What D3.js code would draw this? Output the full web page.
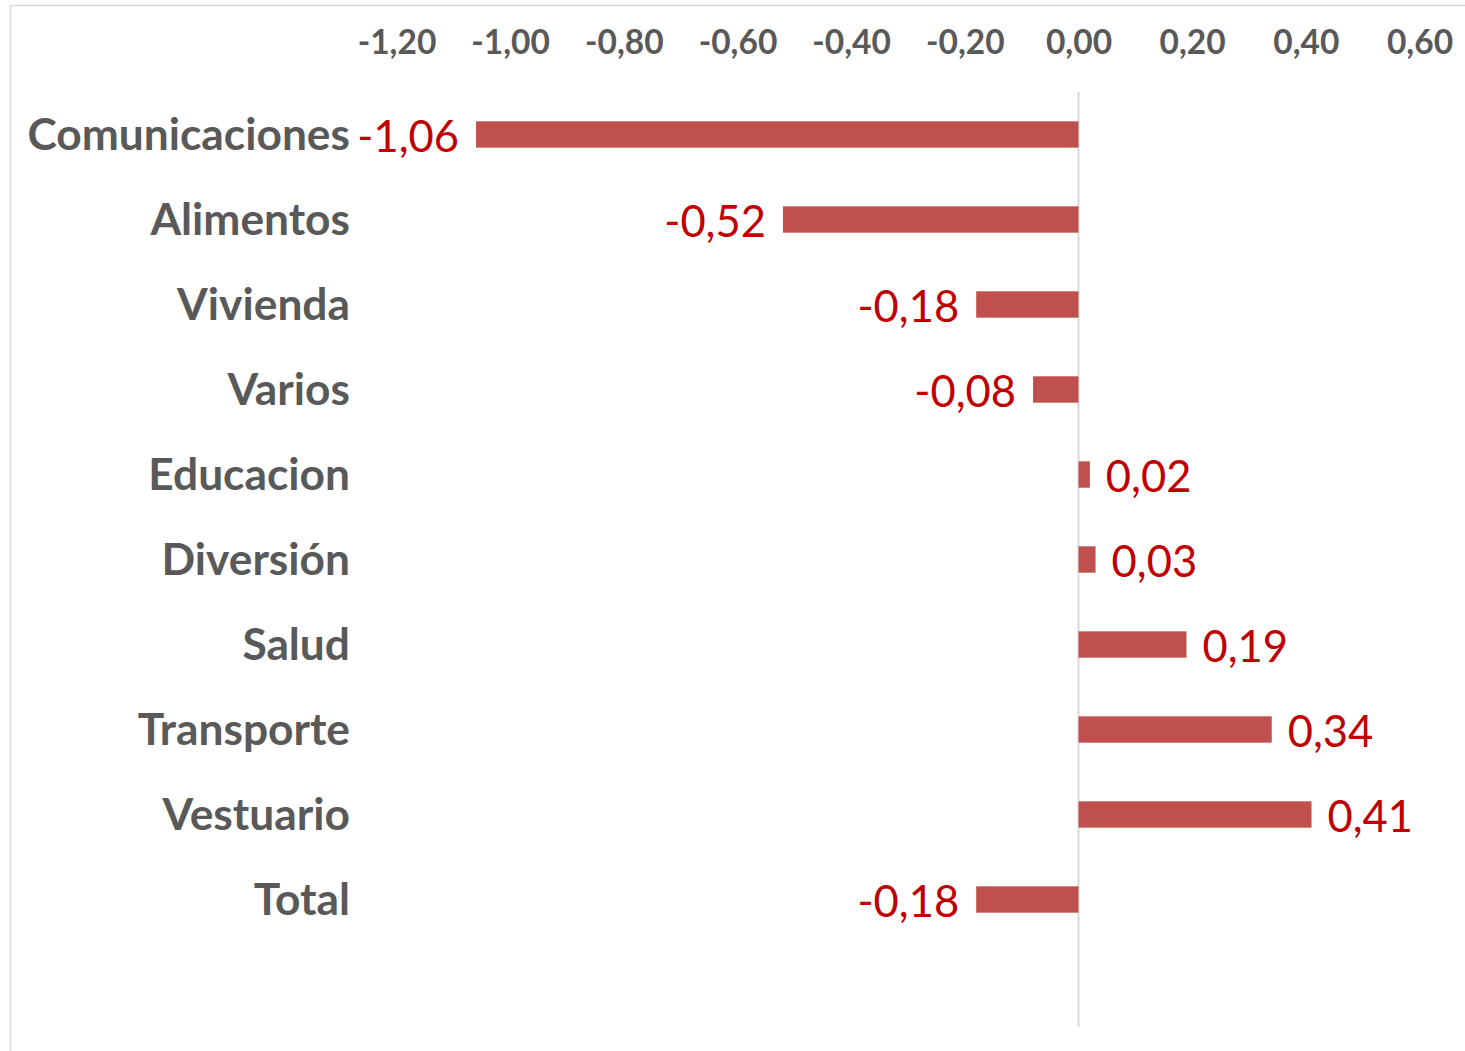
<!DOCTYPE html>
<html>
<head>
<meta charset="utf-8">
<script src="https://cdn.jsdelivr.net/npm/d3@7"></script>
<style>
  body { margin: 0; background: #fff; }
  text { font-family: Lato, "Open Sans", sans-serif; }
</style>
</head>
<body>
<div id="chart"></div>
<script>
var categories = ["Comunicaciones", "Alimentos", "Vivienda", "Varios", "Educacion", "Diversión", "Salud", "Transporte", "Vestuario", "Total"];
var values = [-1.06, -0.52, -0.18, -0.08, 0.02, 0.03, 0.19, 0.34, 0.41, -0.18];
var tickValues = [-1.2, -1.0, -0.8, -0.6, -0.4, -0.2, 0, 0.2, 0.4, 0.6];

var width = 1465, height = 1051;
var plotTop = 92, plotBottom = 1027, step = 85;

var locale = d3.formatLocale({ decimal: ",", thousands: ".", grouping: [3], currency: ["$", ""], minus: "-" });
var fmt = locale.format(".2f");

var svg = d3.select("#chart").append("svg")
    .attr("width", width)
    .attr("height", height);

// marco del grafico
svg.append("rect")
    .attr("x", 10.5).attr("y", 5.5)
    .attr("width", 1470).attr("height", 1060)
    .attr("fill", "none")
    .attr("stroke", "#d9d9d9")
    .attr("stroke-width", 1.5);

var x = d3.scaleLinear()
    .domain([-1.2, 0.6])
    .range([396.5, 1419.5]);

var y = d3.scaleBand()
    .domain(categories)
    .range([plotTop, plotTop + categories.length * step])
    .paddingInner(0.69)
    .paddingOuter(0.345);

// eje superior
var axis = svg.append("g")
    .attr("transform", "translate(0,54)")
    .call(d3.axisTop(x).tickValues(tickValues).tickFormat(fmt).tickSize(0).tickPadding(0));
axis.select(".domain").remove();
axis.selectAll("text")
    .style("font-family", "Lato, sans-serif")
    .style("font-size", "33.5px")
    .style("font-weight", "bold")
    .attr("fill", "#595959");

// linea del cero
svg.append("line")
    .attr("x1", x(0)).attr("x2", x(0))
    .attr("y1", plotTop).attr("y2", plotBottom)
    .attr("stroke", "#d9d9d9")
    .attr("stroke-width", 2);

var rows = categories.map(function (c, i) { return { cat: c, val: values[i] }; });

svg.selectAll(".bar")
    .data(rows)
    .enter().append("rect")
    .attr("class", "bar")
    .attr("x", function (d) { return x(Math.min(0, d.val)); })
    .attr("y", function (d) { return y(d.cat); })
    .attr("width", function (d) { return Math.abs(x(d.val) - x(0)); })
    .attr("height", y.bandwidth())
    .attr("fill", "#c0504d");

// etiquetas de categoria
svg.selectAll(".cat")
    .data(rows)
    .enter().append("text")
    .attr("class", "cat")
    .attr("x", 350)
    .attr("y", function (d) { return y(d.cat) + y.bandwidth() / 2; })
    .attr("dy", "0.34em")
    .attr("text-anchor", "end")
    .style("font-size", "44.3px")
    .style("font-weight", "bold")
    .attr("fill", "#595959")
    .text(function (d) { return d.cat; });

// etiquetas de valor
svg.selectAll(".val")
    .data(rows)
    .enter().append("text")
    .attr("class", "val")
    .attr("x", function (d) { return d.val < 0 ? x(d.val) - 17 : x(d.val) + 16; })
    .attr("y", function (d) { return y(d.cat) + y.bandwidth() / 2; })
    .attr("dy", "0.4em")
    .attr("text-anchor", function (d) { return d.val < 0 ? "end" : "start"; })
    .style("font-size", "43.5px")
    .attr("fill", "#c00000")
    .text(function (d) { return fmt(d.val); });
</script>
</body>
</html>
